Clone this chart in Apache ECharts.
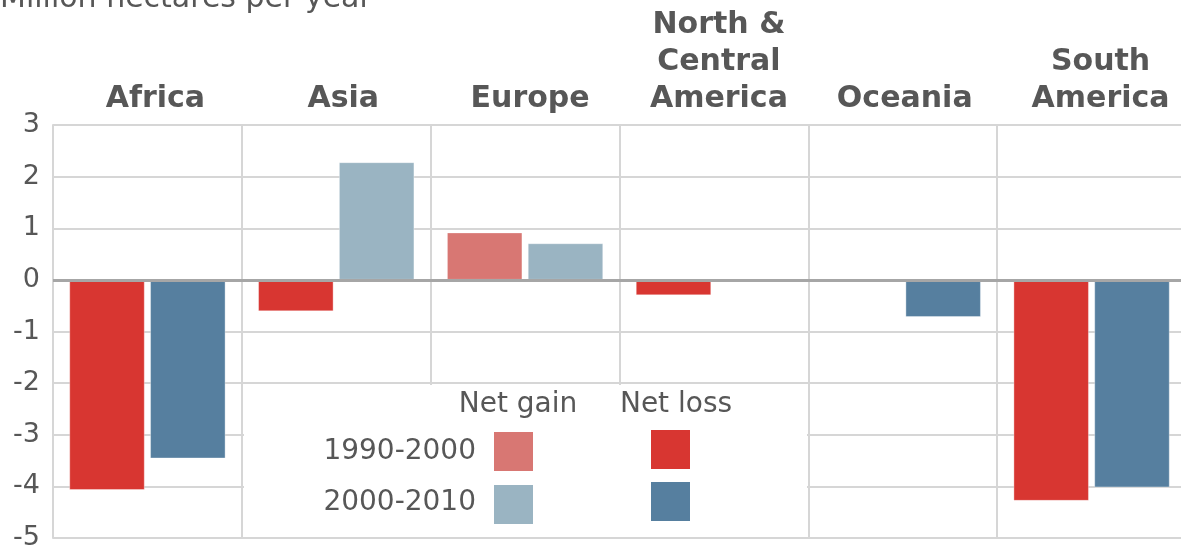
<!DOCTYPE html>
<html>
<head>
<meta charset="utf-8">
<script src="https://cdn.jsdelivr.net/npm/echarts@6/dist/echarts.min.js"></script>
<style>
html,body{margin:0;padding:0;background:#fff;}
#chart{width:1181px;height:547px;}
</style>
</head>
<body>
<div id="chart"></div>
<script>
const categories = ['Africa', 'Asia', 'Europe', 'North &\nCentral\nAmerica', 'Oceania', 'South\nAmerica'];
const values1990_2000 = [-4.07, -0.61, 0.92, -0.30, 0, -4.28];
const values2000_2010 = [-3.46, 2.28, 0.71, 0, -0.72, -4.02];
const seriesNames = ['1990-2000', '2000-2010'];
const legendHeaders = ['Net gain', 'Net loss'];
const yTicks = [-5, -4, -3, -2, -1, 0, 1, 2, 3];
const titleText = 'Million hectares per year';

const colors = {
  gain1: '#d87773', loss1: '#d83631',
  gain2: '#9ab4c2', loss2: '#567f9f'
};
const textColor = '#575757';
const gridColor = '#d6d6d6';
const font = 'DejaVu Sans, Verdana, sans-serif';
// small horizontal nudges of the category labels (layout only)
const labelNudge = [16, 14, 10, 10, 4, 18];

const chart = echarts.init(document.getElementById('chart'), null, {renderer: 'canvas'});

function signColor(gain, loss) {
  return function (p) { return p.value >= 0 ? gain : loss; };
}

const option = {
  backgroundColor: '#ffffff',
  animation: false,
  title: {
    text: titleText,
    left: -5,
    top: -21,
    textStyle: {fontFamily: font, fontSize: 30, fontWeight: 'normal', color: textColor}
  },
  grid: {left: 53, right: -5, top: 125, bottom: 9, outerBoundsMode: 'none', containLabel: false},
  xAxis: {
    type: 'category',
    position: 'top',
    data: categories.map(function (c, i) {
      return {value: c, textStyle: {padding: [0, 0, 0, labelNudge[i]]}};
    }),
    axisLine: {show: false},
    axisTick: {show: false},
    axisLabel: {
      interval: 0,
      margin: 7,
      fontFamily: font,
      fontSize: 30,
      fontWeight: 'bold',
      lineHeight: 37,
      color: textColor,
      align: 'center'
    },
    splitLine: {show: true, interval: 0, lineStyle: {color: gridColor, width: 2}}
  },
  yAxis: {
    type: 'value',
    min: yTicks[0],
    max: yTicks[yTicks.length - 1],
    interval: 1,
    axisLine: {show: true, lineStyle: {color: gridColor, width: 2}},
    axisTick: {show: false},
    axisLabel: {margin: 13, fontFamily: font, fontSize: 27, color: textColor},
    splitLine: {show: true, lineStyle: {color: gridColor, width: 2}}
  },
  series: [
    {
      name: seriesNames[0],
      type: 'bar',
      data: values1990_2000,
      barWidth: '40%',
      barGap: '7%',
      itemStyle: {color: signColor(colors.gain1, colors.loss1), borderColor: 'rgba(255,255,255,0.35)', borderWidth: 1},
      markLine: {
        silent: true,
        symbol: 'none',
        label: {show: false},
        lineStyle: {color: '#a6a6a6', width: 3, type: 'solid'},
        data: [{yAxis: 0}],
        z: 5
      }
    },
    {
      name: seriesNames[1],
      type: 'bar',
      data: values2000_2010,
      barWidth: '40%',
      barGap: '7%',
      itemStyle: {color: signColor(colors.gain2, colors.loss2), borderColor: 'rgba(255,255,255,0.35)', borderWidth: 1}
    }
  ],
  graphic: [
    {type: 'rect', z: 20, shape: {x: 244, y: 385, width: 563, height: 152}, style: {fill: '#ffffff'}},
    {type: 'text', z: 21, x: 518, y: 405, style: {text: legendHeaders[0], fill: textColor, font: '28px ' + font, align: 'center', verticalAlign: 'middle'}},
    {type: 'text', z: 21, x: 676, y: 405, style: {text: legendHeaders[1], fill: textColor, font: '28px ' + font, align: 'center', verticalAlign: 'middle'}},
    {type: 'text', z: 21, x: 476, y: 452, style: {text: seriesNames[0], fill: textColor, font: '28px ' + font, align: 'right', verticalAlign: 'middle'}},
    {type: 'text', z: 21, x: 476, y: 503, style: {text: seriesNames[1], fill: textColor, font: '28px ' + font, align: 'right', verticalAlign: 'middle'}},
    {type: 'rect', z: 21, shape: {x: 494, y: 432, width: 39, height: 39}, style: {fill: colors.gain1}},
    {type: 'rect', z: 21, shape: {x: 651, y: 430, width: 39, height: 39}, style: {fill: colors.loss1}},
    {type: 'rect', z: 21, shape: {x: 494, y: 485, width: 39, height: 39}, style: {fill: colors.gain2}},
    {type: 'rect', z: 21, shape: {x: 651, y: 482, width: 39, height: 39}, style: {fill: colors.loss2}}
  ]
};
chart.setOption(option);
</script>
</body>
</html>
